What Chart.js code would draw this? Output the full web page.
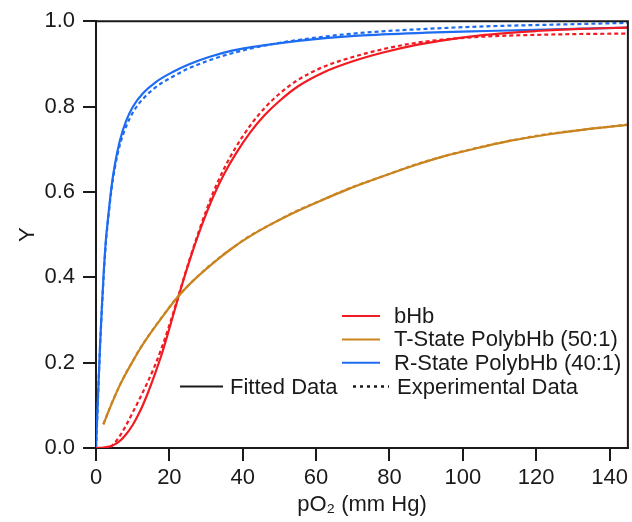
<!DOCTYPE html>
<html>
<head>
<meta charset="utf-8">
<script src="https://cdn.jsdelivr.net/npm/chart.js@4.4.1/dist/chart.umd.min.js"></script>
<style>
  html, body { margin: 0; padding: 0; background: #fff; }
  #wrap { width: 632px; height: 522px; }
</style>
</head>
<body>
<div id="wrap"><canvas id="chart" width="632" height="522"></canvas></div>
<script>
// oxygen equilibrium curves
const xTicks = [0, 20, 40, 60, 80, 100, 120, 140];
const yTicks = [0, 0.2, 0.4, 0.6, 0.8, 1.0];

const seriesNames = ['bHb', 'T-State PolybHb (50:1)', 'R-State PolybHb (40:1)'];
const styleNames = ['Fitted Data', 'Experimental Data'];

// bHb
const bhbFitX = [0, 2, 4, 6, 8, 10, 12, 14, 16, 18, 20, 22, 24, 26, 28, 30, 32, 35, 38, 42, 46, 50, 55, 62, 70, 78, 87, 96, 106, 120, 132, 145];
const bhbFitY = [0, 0.001, 0.004, 0.013, 0.03, 0.054, 0.086, 0.126, 0.172, 0.222, 0.28, 0.34, 0.398, 0.452, 0.502, 0.548, 0.59, 0.643, 0.688, 0.739, 0.78, 0.813, 0.847, 0.88, 0.906, 0.926, 0.944, 0.957, 0.968, 0.977, 0.982, 0.985];
const bhbExpX = [4, 6, 8, 10, 12, 14, 16, 18, 20, 22, 24, 26, 28, 30, 32, 35, 38, 42, 46, 50, 55, 62, 70, 78, 87, 96, 106, 120, 132, 145];
const bhbExpY = [0.002, 0.022, 0.05, 0.083, 0.117, 0.153, 0.192, 0.237, 0.288, 0.343, 0.4, 0.455, 0.507, 0.555, 0.6, 0.656, 0.703, 0.755, 0.797, 0.83, 0.862, 0.893, 0.916, 0.934, 0.949, 0.958, 0.964, 0.968, 0.97, 0.971];

// T-state PolybHb (50:1)
const tFitX = [2, 4, 6, 8, 10, 12, 14.6, 18, 21.8, 26, 32.6, 37.1, 41.6, 47, 55.1, 61.4, 68.6, 78, 86.7, 95, 104.7, 113, 122.7, 133, 145];
const tFitY = [0.055, 0.098, 0.138, 0.172, 0.203, 0.232, 0.266, 0.306, 0.349, 0.388, 0.438, 0.468, 0.494, 0.521, 0.556, 0.58, 0.606, 0.636, 0.662, 0.684, 0.704, 0.72, 0.734, 0.746, 0.757];
const tExpX = [2, 4, 6, 8, 10, 12, 14.6, 18, 21.8, 26, 32.6, 37.1, 41.6, 47, 55.1, 61.4, 68.6, 78, 86.7, 95, 104.7, 113, 122.7, 133, 145];
const tExpY = [0.056, 0.099, 0.138, 0.173, 0.203, 0.233, 0.266, 0.307, 0.349, 0.388, 0.439, 0.468, 0.495, 0.521, 0.557, 0.58, 0.607, 0.636, 0.663, 0.684, 0.705, 0.72, 0.735, 0.746, 0.758];

// R-state PolybHb (40:1)
const rFitX = [0, 0.5, 1.1, 1.6, 2.1, 2.7, 3.3, 4.2, 5.1, 6.5, 8.3, 10.1, 12.8, 16.4, 20.9, 25.4, 30.8, 37.1, 46.1, 55.1, 71.4, 90, 106.5, 125, 145];
const rFitY = [0, 0.11, 0.24, 0.33, 0.41, 0.488, 0.54, 0.61, 0.662, 0.72, 0.768, 0.8, 0.831, 0.858, 0.881, 0.899, 0.916, 0.931, 0.944, 0.954, 0.966, 0.973, 0.977, 0.981, 0.985];
const rExpX = [0, 0.5, 1.1, 1.6, 2.1, 2.7, 3.3, 4.2, 5.1, 6.5, 8.3, 10.1, 12.8, 16.4, 20.9, 25.4, 30.8, 37.1, 46.1, 55.1, 71.4, 90, 106.5, 125, 145];
const rExpY = [0, 0.105, 0.235, 0.325, 0.405, 0.482, 0.535, 0.604, 0.655, 0.71, 0.755, 0.787, 0.818, 0.846, 0.87, 0.89, 0.908, 0.925, 0.943, 0.956, 0.972, 0.982, 0.988, 0.992, 0.996];

const RED = '#f21b22';
const ORANGE = '#c9841f';
const BLUE = '#1d6cf2';
const INK = '#1a1a1a';
const FONT = '"Liberation Sans", Arial, Helvetica, sans-serif';
const DOTS = [4, 3];

const pts = (xs, ys) => xs.map((x, i) => ({ x, y: ys[i] }));

function line(data, color, dotted) {
    return {
        data,
        borderColor: color,
        borderWidth: 2.2,
        borderDash: dotted ? DOTS : [],
        pointRadius: 0,
        fill: false,
        cubicInterpolationMode: 'monotone'
    };
}

// top and right edges of the box
const framePlugin = {
    id: 'frame',
    afterDraw(chart) {
        const { ctx, chartArea: a } = chart;
        ctx.save();
        ctx.strokeStyle = INK;
        ctx.lineWidth = 2;
        ctx.beginPath();
        ctx.moveTo(a.left, a.top);
        ctx.lineTo(a.right, a.top);
        ctx.lineTo(a.right, a.bottom);
        ctx.stroke();
        ctx.restore();
    }
};

// legend sits inside the plot, lower right
const legendPlugin = {
    id: 'insideLegend',
    afterDraw(chart) {
        const ctx = chart.ctx;
        const colors = [RED, ORANGE, BLUE];
        ctx.save();
        ctx.font = '22px ' + FONT;
        ctx.textBaseline = 'middle';
        ctx.fillStyle = INK;
        ctx.lineWidth = 2;
        seriesNames.forEach((name, i) => {
            const y = 316 + i * 23.4;
            ctx.strokeStyle = colors[i];
            ctx.beginPath();
            ctx.moveTo(342, y);
            ctx.lineTo(380, y);
            ctx.stroke();
            ctx.fillText(name, 394, y + 1);
        });
        const y = 386.5;
        ctx.strokeStyle = INK;
        ctx.beginPath();
        ctx.moveTo(180, y);
        ctx.lineTo(223, y);
        ctx.stroke();
        ctx.fillText(styleNames[0], 230, y + 1);
        ctx.setLineDash([3, 4]);
        ctx.lineWidth = 2.5;
        ctx.beginPath();
        ctx.moveTo(353, y);
        ctx.lineTo(389, y);
        ctx.stroke();
        ctx.fillText(styleNames[1], 397, y + 1);
        ctx.restore();
    }
};

Chart.defaults.font.family = FONT;
Chart.defaults.font.size = 22;
Chart.defaults.color = INK;

new Chart(document.getElementById('chart').getContext('2d'), {
    type: 'line',
    data: {
        datasets: [
            line(pts(tFitX, tFitY), ORANGE, false),
            line(pts(tExpX, tExpY), ORANGE, true),
            line(pts(bhbFitX, bhbFitY), RED, false),
            line(pts(bhbExpX, bhbExpY), RED, true),
            line(pts(rFitX, rFitY), BLUE, false),
            line(pts(rExpX, rExpY), BLUE, true)
        ]
    },
    options: {
        responsive: false,
        animation: false,
        devicePixelRatio: 1,
        layout: { padding: { top: 21, right: 3, left: 0, bottom: 0 } },
        plugins: {
            legend: { display: false },
            tooltip: { enabled: false }
        },
        scales: {
            x: {
                type: 'linear',
                min: 0,
                max: 145,
                afterBuildTicks: (s) => { s.ticks = xTicks.map((v) => ({ value: v })); },
                afterFit: (s) => { s.height = 74; },
                ticks: { padding: 4, maxRotation: 0, color: INK },
                grid: { drawOnChartArea: false, drawTicks: true, tickLength: 13, color: INK, lineWidth: 2 },
                border: { display: true, color: INK, width: 2 },
                title: { display: true, text: 'pO₂ (mm Hg)', color: INK, padding: { top: 0, bottom: 4 } }
            },
            y: {
                type: 'linear',
                min: 0,
                max: 1,
                afterBuildTicks: (s) => { s.ticks = yTicks.map((v) => ({ value: v })); },
                afterFit: (s) => { s.width = 96; },
                ticks: { padding: 8, color: INK, callback: (v) => v.toFixed(1) },
                grid: { drawOnChartArea: false, drawTicks: true, tickLength: 13, color: INK, lineWidth: 2 },
                border: { display: true, color: INK, width: 2 },
                title: { display: true, text: 'Y', color: INK, padding: { top: 15, bottom: 0 } }
            }
        }
    },
    plugins: [framePlugin, legendPlugin]
});
</script>
</body>
</html>
